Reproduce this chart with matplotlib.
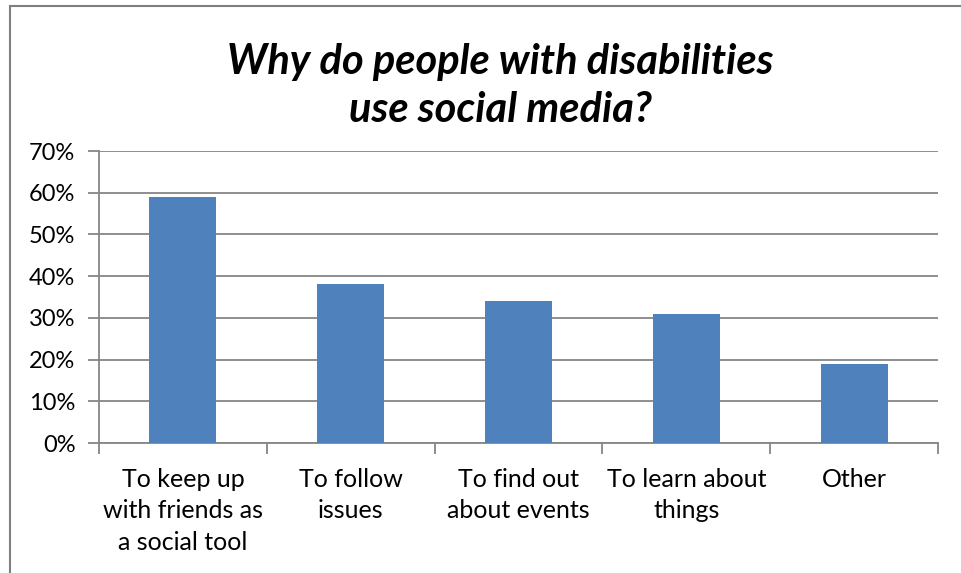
import numpy as np
import matplotlib.pyplot as plt
from matplotlib.patches import Rectangle
from matplotlib.ticker import PercentFormatter

# Survey answers, share of respondents
reasons = ["To keep up\nwith friends as\na social tool", "To follow\nissues",
           "To find out\nabout events", "To learn about\nthings", "Other"]
shares = [59, 38, 34, 31, 19]

plt.rcParams['font.family'] = ['Lato', 'DejaVu Sans']

fig = plt.figure(figsize=(9.61, 5.73), dpi=100)
ax = fig.add_axes([99/961, 1 - 443/573, (938 - 99)/961, (443 - 151)/573])

grey = "#868686"
x = np.arange(len(reasons))
ax.bar(x, shares, width=0.4, color="#4F81BD", zorder=3)

ax.set_xlim(-0.5, len(reasons) - 0.5)
ax.set_ylim(0, 70)
ax.set_yticks(np.arange(0, 71, 10))
ax.yaxis.set_major_formatter(PercentFormatter(decimals=0))
ax.grid(axis="y", color=grey, linewidth=1.3, zorder=0)

# category labels sit between the boundary ticks
ax.set_xticks(np.arange(-0.5, len(reasons), 1))
ax.set_xticklabels([])
ax.set_xticks(x, minor=True)
ax.set_xticklabels(reasons, minor=True, fontsize=18, linespacing=1.44)
ax.tick_params(axis="x", which="minor", length=0, pad=18)
ax.tick_params(axis="x", which="major", length=8, width=1.3, color=grey)
ax.tick_params(axis="y", length=8, width=1.3, color=grey, labelsize=17, pad=9)

for side in ["top", "right"]:
    ax.spines[side].set_visible(False)
for side in ["left", "bottom"]:
    ax.spines[side].set_color(grey)
    ax.spines[side].set_linewidth(1.3)

fig.text(500/961, 1 - 86/573, "Why do people with disabilities\nuse social media?",
         ha="center", va="center", fontsize=30, fontweight="bold",
         fontstyle="italic", linespacing=1.32)

# chart frame (left and top edges)
fig.add_artist(Rectangle((10/961, -0.1), 1.2, 1 - 6/573 + 0.1, transform=fig.transFigure,
                         fill=False, edgecolor="#7f7f7f", linewidth=1.5))

fig.savefig("out.png", dpi=100)
